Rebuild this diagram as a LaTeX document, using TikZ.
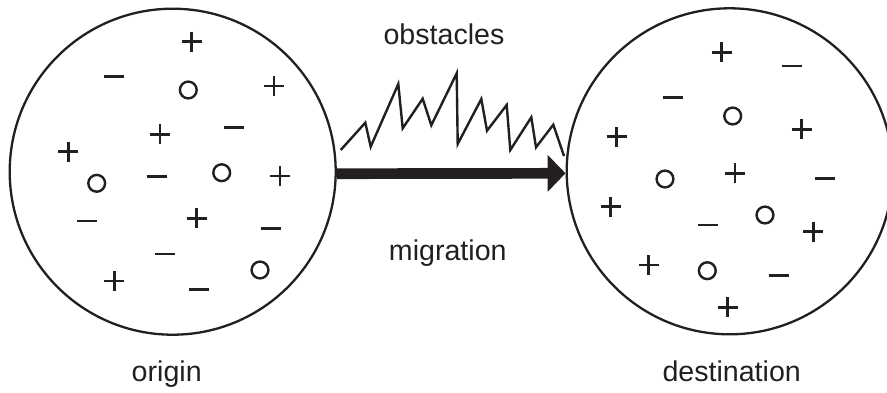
\documentclass[tikz,border=0pt]{standalone}
\usepackage{fontspec}
\setmainfont{Liberation Sans}
\usetikzlibrary{arrows.meta}
\definecolor{ink}{HTML}{231F20}
\tikzset{
  region/.style={circle, draw=ink, line width=2.3pt, inner sep=0pt, minimum size=326pt},
  label text/.style={text=ink, anchor=base, inner sep=0pt, font=\fontsize{28.6}{34}\selectfont},
  pics/plussign/.style={code={\draw[ink, line width=2.5pt] (-10,0) -- (10,0) (0,-10) -- (0,10);}},
  pics/minussign/.style={code={\draw[ink, line width=2.5pt] (-10,0) -- (10,0);}},
  pics/neutral/.style={code={\draw[ink, line width=2.4pt] (0,0) circle[radius=8.4pt];}},
  flow/.style={ink, line width=10.7pt, -{Triangle[length=18pt,width=36pt]}},
  barrier/.style={ink, line width=2.4pt, line join=miter}
}
\begin{document}
\begin{tikzpicture}[x=1pt,y=-1pt]
\useasboundingbox (0,0) rectangle (887,392);
\node[region] (origin) at (172.7,171.7) {};
\node[region] (destination) at (729.7,171.3) {};
% origin contents
\foreach \p in {(191.7,41.7),(274,86),(160,134.3),(68.3,151.7),(280,176),(196.7,218.3),(114.3,281)}
  \pic at \p {plussign};
\foreach \p in {(114.3,76.7),(234.3,127.7),(156.7,176.7),(87.3,221),(270.7,228.3),(165,254),(199.3,289.3)}
  \pic at \p {minussign};
\foreach \p in {(188.3,90),(96.7,183.3),(221.7,172.7),(260,270)}
  \pic at \p {neutral};
% destination contents
\foreach \p in {(721.7,52.3),(801.7,129.3),(616.7,136.7),(735,173.3),(610.7,206.7),(813.3,231.7),(648.7,265),(727.7,307.3)}
  \pic at \p {plussign};
\foreach \p in {(792.3,66),(672.7,97.3),(825,178.3),(708.3,225),(778.7,275.3)}
  \pic at \p {minussign};
\foreach \p in {(732.7,116),(665,179),(765,215),(707.3,270.7)}
  \pic at \p {neutral};
% migration arrow
\draw[flow] ([yshift=-2pt]origin.east) -- ([yshift=-2pt]destination.west);
% obstacles
\draw[barrier] (340.7,150) -- (365.3,122.7) -- (370.7,146.7) -- (398.3,84) -- (402.7,128.3)
  -- (422.7,98.7) -- (431.3,125.3) -- (456.7,73.3) -- (457.7,144) -- (481.3,99) -- (487,130.7)
  -- (506.7,105) -- (510.3,150) -- (531.3,117.3) -- (536,147.3) -- (553.3,124.7) -- (564,156);
% labels
\node[label text] (obst) at (444,44.3) {obstacles};
\node[label text] (migr) at (447.8,260.7) {migration};
\node[label text] (orig) at (166.7,381.7) {origin};
\node[label text] (dest) at (731.7,381.7) {destination};
\end{tikzpicture}
\end{document}
